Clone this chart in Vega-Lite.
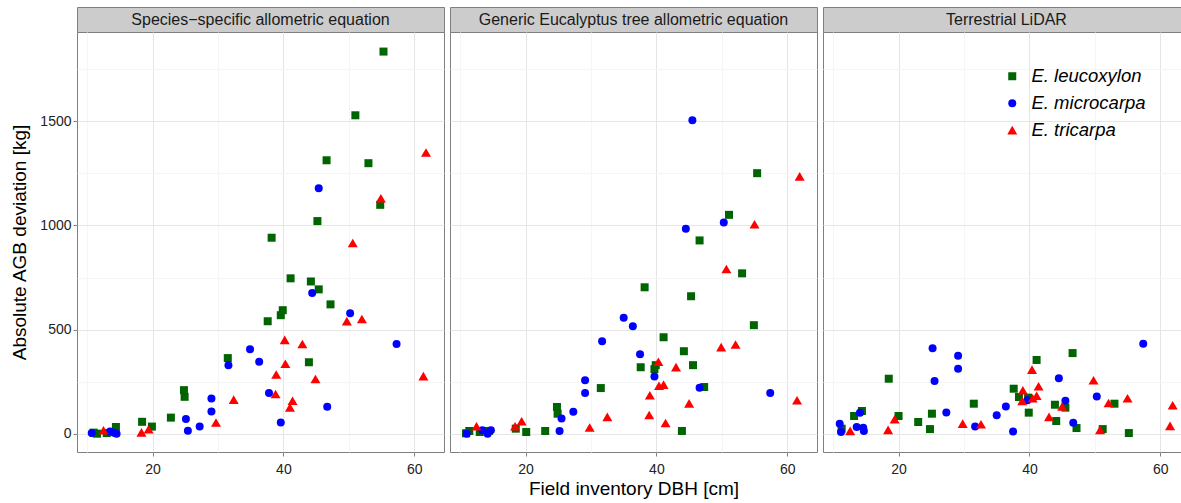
{
  "$schema": "https://vega.github.io/schema/vega-lite/v6.json",
  "padding": {"left": 10, "top": 6, "right": 0, "bottom": 0},
  "background": "white",
  "config": {
    "font": "Liberation Sans",
    "view": {"stroke": "#7f7f7f", "strokeWidth": 1},
    "axis": {
      "domain": false,
      "tickColor": "#7f7f7f",
      "tickSize": 4,
      "labelColor": "#222222",
      "labelFontSize": 14,
      "titleFontSize": 19,
      "titleFontWeight": "normal",
      "titleColor": "#000000",
      "gridColor": "#e5e5e5",
      "gridWidth": 1,
      "format": "d"
    },
    "axisX": {"labelPadding": 6, "titlePadding": 3},
    "axisY": {"labelPadding": 2, "titlePadding": 10}
  },
  "datasets": {
    "pts": [
      {"p":1,"s":"E. leucoxylon","d":55.3,"v":1835},{"p":1,"s":"E. leucoxylon","d":51.0,"v":1529},{"p":1,"s":"E. leucoxylon","d":46.6,"v":1313},{"p":1,"s":"E. leucoxylon","d":53.0,"v":1299},{"p":1,"s":"E. leucoxylon","d":54.8,"v":1099},{"p":1,"s":"E. leucoxylon","d":45.2,"v":1021},{"p":1,"s":"E. leucoxylon","d":38.2,"v":941},{"p":1,"s":"E. leucoxylon","d":41.1,"v":746},{"p":1,"s":"E. leucoxylon","d":44.2,"v":731},{"p":1,"s":"E. leucoxylon","d":45.4,"v":693},{"p":1,"s":"E. leucoxylon","d":47.2,"v":621},{"p":1,"s":"E. leucoxylon","d":39.9,"v":593},{"p":1,"s":"E. leucoxylon","d":39.6,"v":569},{"p":1,"s":"E. leucoxylon","d":37.6,"v":540},{"p":1,"s":"E. leucoxylon","d":31.5,"v":363},{"p":1,"s":"E. leucoxylon","d":43.9,"v":343},{"p":1,"s":"E. leucoxylon","d":24.8,"v":209},{"p":1,"s":"E. leucoxylon","d":24.9,"v":177},{"p":1,"s":"E. leucoxylon","d":22.8,"v":77},{"p":1,"s":"E. leucoxylon","d":18.4,"v":57},{"p":1,"s":"E. leucoxylon","d":19.9,"v":34},{"p":1,"s":"E. leucoxylon","d":14.4,"v":32},{"p":1,"s":"E. leucoxylon","d":13.0,"v":3},{"p":1,"s":"E. leucoxylon","d":11.5,"v":0},{"p":1,"s":"E. leucoxylon","d":11.0,"v":5},
      {"p":1,"s":"E. microcarpa","d":45.4,"v":1179},{"p":1,"s":"E. microcarpa","d":44.4,"v":675},{"p":1,"s":"E. microcarpa","d":50.2,"v":578},{"p":1,"s":"E. microcarpa","d":57.3,"v":431},{"p":1,"s":"E. microcarpa","d":34.9,"v":406},{"p":1,"s":"E. microcarpa","d":31.6,"v":329},{"p":1,"s":"E. microcarpa","d":36.3,"v":345},{"p":1,"s":"E. microcarpa","d":37.8,"v":195},{"p":1,"s":"E. microcarpa","d":29.0,"v":169},{"p":1,"s":"E. microcarpa","d":46.7,"v":129},{"p":1,"s":"E. microcarpa","d":29.0,"v":107},{"p":1,"s":"E. microcarpa","d":25.1,"v":70},{"p":1,"s":"E. microcarpa","d":39.6,"v":54},{"p":1,"s":"E. microcarpa","d":27.2,"v":34},{"p":1,"s":"E. microcarpa","d":25.4,"v":14},{"p":1,"s":"E. microcarpa","d":14.5,"v":0},{"p":1,"s":"E. microcarpa","d":13.5,"v":10},{"p":1,"s":"E. microcarpa","d":10.7,"v":3},{"p":1,"s":"E. microcarpa","d":14.1,"v":5},
      {"p":1,"s":"E. tricarpa","d":61.8,"v":1350},{"p":1,"s":"E. tricarpa","d":54.9,"v":1130},{"p":1,"s":"E. tricarpa","d":50.6,"v":915},{"p":1,"s":"E. tricarpa","d":52.0,"v":550},{"p":1,"s":"E. tricarpa","d":49.7,"v":540},{"p":1,"s":"E. tricarpa","d":40.2,"v":450},{"p":1,"s":"E. tricarpa","d":42.9,"v":430},{"p":1,"s":"E. tricarpa","d":40.3,"v":335},{"p":1,"s":"E. tricarpa","d":38.9,"v":284},{"p":1,"s":"E. tricarpa","d":44.9,"v":262},{"p":1,"s":"E. tricarpa","d":61.4,"v":276},{"p":1,"s":"E. tricarpa","d":38.8,"v":190},{"p":1,"s":"E. tricarpa","d":32.4,"v":163},{"p":1,"s":"E. tricarpa","d":41.4,"v":158},{"p":1,"s":"E. tricarpa","d":41.0,"v":126},{"p":1,"s":"E. tricarpa","d":29.7,"v":53},{"p":1,"s":"E. tricarpa","d":19.4,"v":21},{"p":1,"s":"E. tricarpa","d":18.3,"v":6},{"p":1,"s":"E. tricarpa","d":12.5,"v":16},
      {"p":2,"s":"E. leucoxylon","d":46.6,"v":928},{"p":2,"s":"E. leucoxylon","d":55.4,"v":1251},{"p":2,"s":"E. leucoxylon","d":51.1,"v":1051},{"p":2,"s":"E. leucoxylon","d":53.1,"v":770},{"p":2,"s":"E. leucoxylon","d":38.2,"v":703},{"p":2,"s":"E. leucoxylon","d":45.3,"v":660},{"p":2,"s":"E. leucoxylon","d":54.9,"v":521},{"p":2,"s":"E. leucoxylon","d":41.1,"v":463},{"p":2,"s":"E. leucoxylon","d":44.2,"v":396},{"p":2,"s":"E. leucoxylon","d":39.9,"v":329},{"p":2,"s":"E. leucoxylon","d":37.6,"v":319},{"p":2,"s":"E. leucoxylon","d":39.7,"v":310},{"p":2,"s":"E. leucoxylon","d":45.6,"v":329},{"p":2,"s":"E. leucoxylon","d":47.3,"v":224},{"p":2,"s":"E. leucoxylon","d":31.5,"v":219},{"p":2,"s":"E. leucoxylon","d":24.8,"v":128},{"p":2,"s":"E. leucoxylon","d":24.9,"v":96},{"p":2,"s":"E. leucoxylon","d":43.9,"v":13},{"p":2,"s":"E. leucoxylon","d":23.0,"v":13},{"p":2,"s":"E. leucoxylon","d":20.1,"v":8},{"p":2,"s":"E. leucoxylon","d":18.5,"v":24},{"p":2,"s":"E. leucoxylon","d":14.4,"v":13},{"p":2,"s":"E. leucoxylon","d":13.0,"v":8},{"p":2,"s":"E. leucoxylon","d":11.4,"v":13},{"p":2,"s":"E. leucoxylon","d":10.9,"v":2},
      {"p":2,"s":"E. microcarpa","d":45.5,"v":1505},{"p":2,"s":"E. microcarpa","d":50.3,"v":1014},{"p":2,"s":"E. microcarpa","d":44.5,"v":984},{"p":2,"s":"E. microcarpa","d":35.0,"v":557},{"p":2,"s":"E. microcarpa","d":36.4,"v":516},{"p":2,"s":"E. microcarpa","d":31.7,"v":444},{"p":2,"s":"E. microcarpa","d":37.5,"v":382},{"p":2,"s":"E. microcarpa","d":39.7,"v":275},{"p":2,"s":"E. microcarpa","d":46.6,"v":220},{"p":2,"s":"E. microcarpa","d":29.1,"v":257},{"p":2,"s":"E. microcarpa","d":29.1,"v":195},{"p":2,"s":"E. microcarpa","d":57.4,"v":195},{"p":2,"s":"E. microcarpa","d":25.5,"v":73},{"p":2,"s":"E. microcarpa","d":27.3,"v":105},{"p":2,"s":"E. microcarpa","d":25.2,"v":13},{"p":2,"s":"E. microcarpa","d":14.7,"v":16},{"p":2,"s":"E. microcarpa","d":14.2,"v":0},{"p":2,"s":"E. microcarpa","d":13.4,"v":16},{"p":2,"s":"E. microcarpa","d":11.0,"v":0},
      {"p":2,"s":"E. tricarpa","d":61.9,"v":1235},{"p":2,"s":"E. tricarpa","d":55.0,"v":1005},{"p":2,"s":"E. tricarpa","d":50.7,"v":790},{"p":2,"s":"E. tricarpa","d":49.9,"v":415},{"p":2,"s":"E. tricarpa","d":52.1,"v":428},{"p":2,"s":"E. tricarpa","d":40.3,"v":345},{"p":2,"s":"E. tricarpa","d":43.0,"v":319},{"p":2,"s":"E. tricarpa","d":40.4,"v":230},{"p":2,"s":"E. tricarpa","d":41.1,"v":235},{"p":2,"s":"E. tricarpa","d":39.0,"v":184},{"p":2,"s":"E. tricarpa","d":45.0,"v":145},{"p":2,"s":"E. tricarpa","d":61.5,"v":160},{"p":2,"s":"E. tricarpa","d":32.5,"v":80},{"p":2,"s":"E. tricarpa","d":38.9,"v":89},{"p":2,"s":"E. tricarpa","d":41.4,"v":51},{"p":2,"s":"E. tricarpa","d":29.8,"v":29},{"p":2,"s":"E. tricarpa","d":19.4,"v":59},{"p":2,"s":"E. tricarpa","d":18.4,"v":35},{"p":2,"s":"E. tricarpa","d":12.5,"v":35},
      {"p":3,"s":"E. leucoxylon","d":46.6,"v":387},{"p":3,"s":"E. leucoxylon","d":41.1,"v":354},{"p":3,"s":"E. leucoxylon","d":18.5,"v":264},{"p":3,"s":"E. leucoxylon","d":37.6,"v":216},{"p":3,"s":"E. leucoxylon","d":38.4,"v":176},{"p":3,"s":"E. leucoxylon","d":39.8,"v":173},{"p":3,"s":"E. leucoxylon","d":53.0,"v":144},{"p":3,"s":"E. leucoxylon","d":31.5,"v":144},{"p":3,"s":"E. leucoxylon","d":43.9,"v":139},{"p":3,"s":"E. leucoxylon","d":45.5,"v":125},{"p":3,"s":"E. leucoxylon","d":39.9,"v":101},{"p":3,"s":"E. leucoxylon","d":25.1,"v":96},{"p":3,"s":"E. leucoxylon","d":20.0,"v":85},{"p":3,"s":"E. leucoxylon","d":44.1,"v":61},{"p":3,"s":"E. leucoxylon","d":23.0,"v":56},{"p":3,"s":"E. leucoxylon","d":24.8,"v":22},{"p":3,"s":"E. leucoxylon","d":47.2,"v":27},{"p":3,"s":"E. leucoxylon","d":51.2,"v":22},{"p":3,"s":"E. leucoxylon","d":55.2,"v":3},{"p":3,"s":"E. leucoxylon","d":14.4,"v":109},{"p":3,"s":"E. leucoxylon","d":13.2,"v":85},{"p":3,"s":"E. leucoxylon","d":11.3,"v":24},
      {"p":3,"s":"E. microcarpa","d":57.4,"v":432},{"p":3,"s":"E. microcarpa","d":25.2,"v":410},{"p":3,"s":"E. microcarpa","d":29.1,"v":374},{"p":3,"s":"E. microcarpa","d":29.1,"v":312},{"p":3,"s":"E. microcarpa","d":25.5,"v":253},{"p":3,"s":"E. microcarpa","d":44.5,"v":266},{"p":3,"s":"E. microcarpa","d":39.7,"v":160},{"p":3,"s":"E. microcarpa","d":50.3,"v":179},{"p":3,"s":"E. microcarpa","d":45.5,"v":158},{"p":3,"s":"E. microcarpa","d":36.4,"v":130},{"p":3,"s":"E. microcarpa","d":35.0,"v":88},{"p":3,"s":"E. microcarpa","d":27.3,"v":102},{"p":3,"s":"E. microcarpa","d":46.7,"v":53},{"p":3,"s":"E. microcarpa","d":31.7,"v":34},{"p":3,"s":"E. microcarpa","d":37.5,"v":11},{"p":3,"s":"E. microcarpa","d":14.1,"v":101},{"p":3,"s":"E. microcarpa","d":13.6,"v":32},{"p":3,"s":"E. microcarpa","d":14.6,"v":29},{"p":3,"s":"E. microcarpa","d":14.7,"v":13},{"p":3,"s":"E. microcarpa","d":11.0,"v":48},{"p":3,"s":"E. microcarpa","d":11.2,"v":8},
      {"p":3,"s":"E. tricarpa","d":40.4,"v":307},{"p":3,"s":"E. tricarpa","d":49.8,"v":256},{"p":3,"s":"E. tricarpa","d":41.4,"v":227},{"p":3,"s":"E. tricarpa","d":39.0,"v":208},{"p":3,"s":"E. tricarpa","d":41.1,"v":182},{"p":3,"s":"E. tricarpa","d":40.5,"v":170},{"p":3,"s":"E. tricarpa","d":38.9,"v":157},{"p":3,"s":"E. tricarpa","d":55.0,"v":170},{"p":3,"s":"E. tricarpa","d":52.1,"v":147},{"p":3,"s":"E. tricarpa","d":45.0,"v":130},{"p":3,"s":"E. tricarpa","d":61.9,"v":136},{"p":3,"s":"E. tricarpa","d":19.4,"v":69},{"p":3,"s":"E. tricarpa","d":43.0,"v":80},{"p":3,"s":"E. tricarpa","d":29.8,"v":48},{"p":3,"s":"E. tricarpa","d":32.6,"v":45},{"p":3,"s":"E. tricarpa","d":50.8,"v":18},{"p":3,"s":"E. tricarpa","d":61.5,"v":37},{"p":3,"s":"E. tricarpa","d":18.4,"v":18},{"p":3,"s":"E. tricarpa","d":12.6,"v":13}
    ],
    "strips": [
      {"p":1,"t":"Species−specific allometric equation"},
      {"p":2,"t":"Generic Eucalyptus tree allometric equation"},
      {"p":3,"t":"Terrestrial LiDAR"}
    ]
  },
  "spacing": 4,
  "bounds": "full",
  "resolve": {"scale": {"x": "independent", "y": "independent"}},
  "hconcat": [
    {
      "spacing": 0,
      "bounds": "flush",
      "resolve": {"scale": {"x": "independent", "y": "independent"}},
      "vconcat": [
        {
          "width": 367, "height": 25,
          "view": {"fill": "#cccccc", "stroke": "#7f7f7f"},
          "data": {"name": "strips"},
          "transform": [{"filter": "datum.p === 1"}],
          "mark": {"type": "text", "fontSize": 16, "color": "#1a1a1a", "baseline": "middle", "align": "center"},
          "encoding": {
            "text": {"field": "t"},
            "x": {"datum": 0.5, "type": "quantitative", "scale": {"domain": [0, 1]}, "axis": null},
            "y": {"datum": 0.5, "type": "quantitative", "scale": {"domain": [0, 1]}, "axis": null}
          }
        },
        {
          "width": 367, "height": 420,
          "data": {"name": "pts"},
          "transform": [{"filter": "datum.p === 1"}],
          "resolve": {"axis": {"x": "independent", "y": "independent"}},
          "layer": [
            {
              "mark": {"type": "point", "opacity": 0},
              "encoding": {
                "x": {"field": "d", "type": "quantitative", "scale": {"domain": [8.45, 64.55], "nice": false, "zero": false}, "axis": {"orient": "top", "values": [10, 30, 50], "grid": true, "gridColor": "#f5f5f5", "labels": false, "ticks": false, "domain": false, "title": null}},
                "y": {"field": "v", "type": "quantitative", "scale": {"domain": [-88, 1929], "nice": false, "zero": false}, "axis": {"orient": "right", "values": [250, 750, 1250, 1750], "grid": true, "gridColor": "#f5f5f5", "labels": false, "ticks": false, "domain": false, "title": null}}
              }
            },
            {
              "mark": {"type": "point", "filled": true, "opacity": 1, "size": 64, "strokeWidth": 0},
              "encoding": {
                "x": {"field": "d", "type": "quantitative", "scale": {"domain": [8.45, 64.55], "nice": false, "zero": false}, "axis": {"orient": "bottom", "values": [20, 40, 60], "grid": true, "title": null}},
                "y": {"field": "v", "type": "quantitative", "scale": {"domain": [-88, 1929], "nice": false, "zero": false}, "axis": {"orient": "left", "values": [0, 500, 1000, 1500], "grid": true, "title": "Absolute AGB deviation [kg]"}},
                "color": {"field": "s", "type": "nominal", "scale": {"domain": ["E. leucoxylon", "E. microcarpa", "E. tricarpa"], "range": ["#006400", "#0000ff", "#ff0000"]},
                  "legend": {"orient": "none", "legendX": 926, "legendY": 60, "title": null, "labelFontSize": 18.5, "labelFontStyle": "italic", "labelColor": "#000000", "symbolSize": 64, "rowPadding": 8, "labelOffset": 10, "padding": 0, "symbolStrokeWidth": 0}},
                "shape": {"field": "s", "type": "nominal", "scale": {"domain": ["E. leucoxylon", "E. microcarpa", "E. tricarpa"], "range": ["square", "circle", "M0,-1.1L1.25,1.05L-1.25,1.05Z"]}}
              }
            }
          ]
        }
      ]
    },
    {
      "spacing": 0,
      "bounds": "flush",
      "resolve": {"scale": {"x": "independent", "y": "independent"}},
      "vconcat": [
        {
          "width": 367, "height": 25,
          "view": {"fill": "#cccccc", "stroke": "#7f7f7f"},
          "data": {"name": "strips"},
          "transform": [{"filter": "datum.p === 2"}],
          "mark": {"type": "text", "fontSize": 16, "color": "#1a1a1a", "baseline": "middle", "align": "center"},
          "encoding": {
            "text": {"field": "t"},
            "x": {"datum": 0.5, "type": "quantitative", "scale": {"domain": [0, 1]}, "axis": null},
            "y": {"datum": 0.5, "type": "quantitative", "scale": {"domain": [0, 1]}, "axis": null}
          }
        },
        {
          "width": 367, "height": 420,
          "data": {"name": "pts"},
          "transform": [{"filter": "datum.p === 2"}],
          "resolve": {"axis": {"x": "independent", "y": "independent"}},
          "layer": [
            {
              "mark": {"type": "point", "opacity": 0},
              "encoding": {
                "x": {"field": "d", "type": "quantitative", "scale": {"domain": [8.45, 64.55], "nice": false, "zero": false}, "axis": {"orient": "top", "values": [10, 30, 50], "grid": true, "gridColor": "#f5f5f5", "labels": false, "ticks": false, "domain": false, "title": null}},
                "y": {"field": "v", "type": "quantitative", "scale": {"domain": [-88, 1929], "nice": false, "zero": false}, "axis": {"orient": "right", "values": [250, 750, 1250, 1750], "grid": true, "gridColor": "#f5f5f5", "labels": false, "ticks": false, "domain": false, "title": null}}
              }
            },
            {
              "mark": {"type": "point", "filled": true, "opacity": 1, "size": 64, "strokeWidth": 0},
              "encoding": {
                "x": {"field": "d", "type": "quantitative", "scale": {"domain": [8.45, 64.55], "nice": false, "zero": false}, "axis": {"orient": "bottom", "values": [20, 40, 60], "grid": true, "title": "Field inventory DBH [cm]"}},
                "y": {"field": "v", "type": "quantitative", "scale": {"domain": [-88, 1929], "nice": false, "zero": false}, "axis": {"orient": "left", "values": [0, 500, 1000, 1500], "grid": true, "labels": false, "ticks": false, "title": null}},
                "color": {"field": "s", "type": "nominal", "scale": {"domain": ["E. leucoxylon", "E. microcarpa", "E. tricarpa"], "range": ["#006400", "#0000ff", "#ff0000"]}},
                "shape": {"field": "s", "type": "nominal", "scale": {"domain": ["E. leucoxylon", "E. microcarpa", "E. tricarpa"], "range": ["square", "circle", "M0,-1.1L1.25,1.05L-1.25,1.05Z"]}}
              }
            }
          ]
        }
      ]
    },
    {
      "spacing": 0,
      "bounds": "flush",
      "resolve": {"scale": {"x": "independent", "y": "independent"}},
      "vconcat": [
        {
          "width": 361, "height": 25,
          "view": {"fill": "#cccccc", "stroke": "#7f7f7f"},
          "data": {"name": "strips"},
          "transform": [{"filter": "datum.p === 3"}],
          "mark": {"type": "text", "fontSize": 16, "color": "#1a1a1a", "baseline": "middle", "align": "center"},
          "encoding": {
            "text": {"field": "t"},
            "x": {"datum": 0.5082, "type": "quantitative", "scale": {"domain": [0, 1]}, "axis": null},
            "y": {"datum": 0.5, "type": "quantitative", "scale": {"domain": [0, 1]}, "axis": null}
          }
        },
        {
          "width": 361, "height": 420,
          "data": {"name": "pts"},
          "transform": [{"filter": "datum.p === 3"}],
          "resolve": {"axis": {"x": "independent", "y": "independent"}},
          "layer": [
            {
              "mark": {"type": "point", "opacity": 0},
              "encoding": {
                "x": {"field": "d", "type": "quantitative", "scale": {"domain": [8.45, 63.63], "nice": false, "zero": false}, "axis": {"orient": "top", "values": [10, 30, 50], "grid": true, "gridColor": "#f5f5f5", "labels": false, "ticks": false, "domain": false, "title": null}},
                "y": {"field": "v", "type": "quantitative", "scale": {"domain": [-88, 1929], "nice": false, "zero": false}, "axis": {"orient": "right", "values": [250, 750, 1250, 1750], "grid": true, "gridColor": "#f5f5f5", "labels": false, "ticks": false, "domain": false, "title": null}}
              }
            },
            {
              "mark": {"type": "point", "filled": true, "opacity": 1, "size": 64, "strokeWidth": 0},
              "encoding": {
                "x": {"field": "d", "type": "quantitative", "scale": {"domain": [8.45, 63.63], "nice": false, "zero": false}, "axis": {"orient": "bottom", "values": [20, 40, 60], "grid": true, "title": null}},
                "y": {"field": "v", "type": "quantitative", "scale": {"domain": [-88, 1929], "nice": false, "zero": false}, "axis": {"orient": "left", "values": [0, 500, 1000, 1500], "grid": true, "labels": false, "ticks": false, "title": null}},
                "color": {"field": "s", "type": "nominal", "scale": {"domain": ["E. leucoxylon", "E. microcarpa", "E. tricarpa"], "range": ["#006400", "#0000ff", "#ff0000"]}},
                "shape": {"field": "s", "type": "nominal", "scale": {"domain": ["E. leucoxylon", "E. microcarpa", "E. tricarpa"], "range": ["square", "circle", "M0,-1.1L1.25,1.05L-1.25,1.05Z"]}}
              }
            }
          ]
        }
      ]
    }
  ]
}
